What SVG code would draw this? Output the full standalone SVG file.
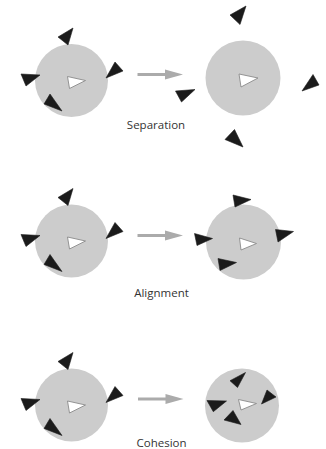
<svg xmlns="http://www.w3.org/2000/svg" width="326" height="449" viewBox="0 0 326 449">
  <style>
    .zone { fill: #cccccc; }
    .boid { fill: #1b1b1b; stroke: #1b1b1b; stroke-width: 0.6; stroke-linejoin: round; }
    .focus { fill: #ffffff; stroke: #8a8a8a; stroke-width: 0.9; stroke-linejoin: round; }
    .label { font-family: "Open Sans", "Liberation Sans", sans-serif; font-size: 11.5px; fill: #333333; text-anchor: middle; }
    .shaft { stroke: #ababab; stroke-width: 3; fill: none; }
    .head { fill: #ababab; }
  </style>
  <defs>
    <!-- starting flock, reused for every rule -->
    <g id="flock-start">
      <circle class="zone" cx="71.5" cy="80.5" r="36.5"/>
      <polygon class="boid" points="73,28 58,37 68,45"/>
      <polygon class="boid" points="115,62 123,71 106,78"/>
      <polygon class="boid" points="21,74 40,75 26,86"/>
      <polygon class="boid" points="50,94 44,104 62,111"/>
      <polygon class="focus" points="67.5,76.5 69.5,88.5 85.5,80.5"/>
    </g>
  </defs>

  <!-- Separation -->
  <g id="separation-before">
    <use href="#flock-start"/>
  </g>
  <g id="separation-after">
    <circle class="zone" cx="243" cy="78" r="37.5"/>
    <polygon class="boid" points="246,6 230,15 240,24.5"/>
    <polygon class="boid" points="175.5,91 195,89.5 181.5,102"/>
    <polygon class="boid" points="313,74.5 319,85 302,91"/>
    <polygon class="boid" points="234.5,129.5 225,139.5 243,147"/>
    <polygon class="focus" points="239,74 241,87 258,78"/>
  </g>
  <text id="separation-label" class="label" x="156" y="128.5">Separation</text>

  <!-- Alignment -->
  <g id="alignment-before" transform="translate(0,160.5)">
    <use href="#flock-start"/>
  </g>
  <g id="alignment-after">
    <circle class="zone" cx="243.5" cy="242" r="37.5"/>
    <polygon class="boid" points="233,195 251,199.5 235,207"/>
    <polygon class="boid" points="194.5,233.5 212.5,238.5 197,245.5"/>
    <polygon class="boid" points="275.5,229.5 293.5,231.5 278,242"/>
    <polygon class="boid" points="218,258.5 236.5,262.5 220,270.5"/>
    <polygon class="focus" points="239.5,238 241,250 256.5,243.5"/>
  </g>
  <text id="alignment-label" class="label" x="161.5" y="296.5">Alignment</text>

  <!-- Cohesion -->
  <g id="cohesion-before" transform="translate(0,324.5)">
    <use href="#flock-start"/>
  </g>
  <g id="cohesion-after">
    <circle class="zone" cx="242" cy="405.5" r="37"/>
    <polygon class="boid" points="245.5,372.5 230,380.7 237.5,387.5"/>
    <polygon class="boid" points="267,390 276,397 261.5,404"/>
    <polygon class="boid" points="207,400.5 226.5,401 213.3,411.7"/>
    <polygon class="boid" points="233,410.5 224,420 241,424.5"/>
    <polygon class="focus" points="238.5,399.5 241,410 256.5,403.5"/>
  </g>
  <text id="cohesion-label" class="label" x="161.5" y="446.5">Cohesion</text>

  <!-- transition arrows -->
  <g id="connectors">
    <line class="shaft" x1="137.5" y1="74.5" x2="168" y2="74.5"/>
    <polygon class="head" points="165,69.5 183,74.5 165,79.5"/>
    <line class="shaft" x1="137.5" y1="235.5" x2="168" y2="235.5"/>
    <polygon class="head" points="165,230.5 183,235.5 165,240.5"/>
    <line class="shaft" x1="138" y1="399" x2="168.5" y2="399"/>
    <polygon class="head" points="165.5,394 183.5,399 165.5,404"/>
  </g>
</svg>
